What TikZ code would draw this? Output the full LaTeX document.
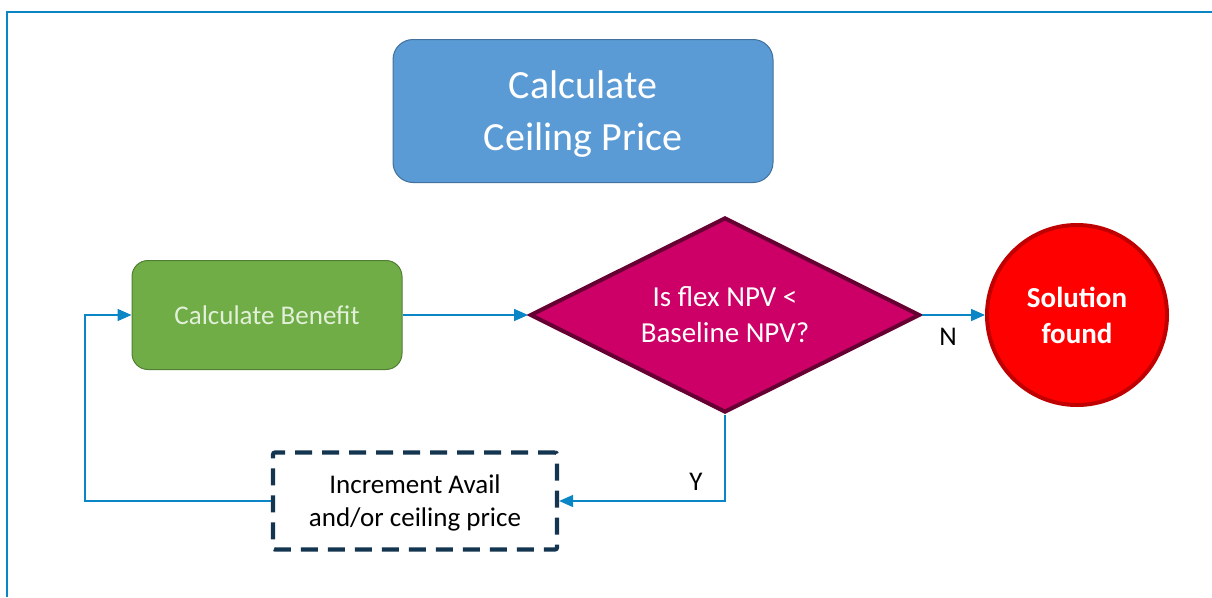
\documentclass[tikz,border=0pt]{standalone}
\usepackage{fontspec}
\setmainfont{Carlito}
\usetikzlibrary{shapes.geometric,arrows.meta}

\definecolor{linkblue}{HTML}{0A86C6}
\definecolor{headfill}{HTML}{5B9BD5}
\definecolor{headline}{HTML}{41719C}
\definecolor{benefill}{HTML}{70AD47}
\definecolor{beneline}{HTML}{507E32}
\definecolor{benetext}{HTML}{E2F0D9}
\definecolor{testfill}{HTML}{CC0066}
\definecolor{testline}{HTML}{660033}
\definecolor{donefill}{HTML}{FF0000}
\definecolor{doneline}{HTML}{C00000}
\definecolor{incrline}{HTML}{14354F}

\begin{document}
\begin{tikzpicture}[
      x = 1pt, y = -1pt,
      every node/.style = {inner sep = 0pt, align = center},
      headbox/.style = {
        rectangle, rounded corners = 20pt, fill = headfill, draw = headline,
        line width = 1pt, minimum width = 380pt, minimum height = 143pt,
        text depth = 0pt, text = white, font = \fontsize{40}{52}\selectfont},
      benebox/.style = {
        rectangle, rounded corners = 16pt, fill = benefill, draw = beneline,
        line width = 1pt, minimum width = 270pt, minimum height = 109pt,
        text = benetext, font = \fontsize{27}{33}\selectfont},
      testbox/.style = {
        diamond, aspect = 2, fill = testfill, draw = testline,
        line width = 4pt, minimum width = 390pt, minimum height = 195pt,
        text = white, font = \fontsize{29}{36}\selectfont},
      donebox/.style = {
        circle, fill = donefill, draw = doneline, line width = 4pt,
        minimum size = 180pt, text = white,
        font = \bfseries\fontsize{29}{36}\selectfont},
      incrbox/.style = {
        rectangle, rounded corners = 2pt, fill = white, draw = incrline,
        line width = 4.2pt, dash pattern = on 17pt off 10pt,
        minimum width = 284pt, minimum height = 97pt, text depth = 0pt,
        text = black, font = \fontsize{27}{33}\selectfont},
      tag/.style = {text = black, font = \fontsize{27}{30}\selectfont},
      link/.style = {
        draw = linkblue, line width = 1.6pt,
        -{Triangle[length = 14pt, width = 12pt]}}
      ]
    \useasboundingbox (0,0) rectangle (1212,597);
    % frame
    \draw[linkblue, line width = 2.6pt] (7,597) -- (7,12) -- (1212,12);

    \node[headbox] (head) at (583,111) {Calculate\\Ceiling Price}; % 0
    \node[benebox] (bene) at (267,315) {Calculate Benefit}; % 1
    \node[testbox] (test) at (725,315) {Is flex NPV <\\Baseline NPV?}; % 2
    \node[donebox] (done) at (1077,315) {Solution\\found}; % 3
    \node[incrbox] (incr) at (415,501) {Increment Avail\\and/or ceiling price}; % 4
    \node[tag] (tagN) at (948,337) {N};
    \node[tag] (tagY) at (696,482) {Y};
    \coordinate (loop) at (85,501);

    \draw[link] (bene.east)--(test.west);
    \draw[link] (test.east)--(done.west);
    \draw[link] (test.south) |- (incr.east);
    \draw[link] (incr.west)--(loop) |- (bene.west);
  \end{tikzpicture}
\end{document}
